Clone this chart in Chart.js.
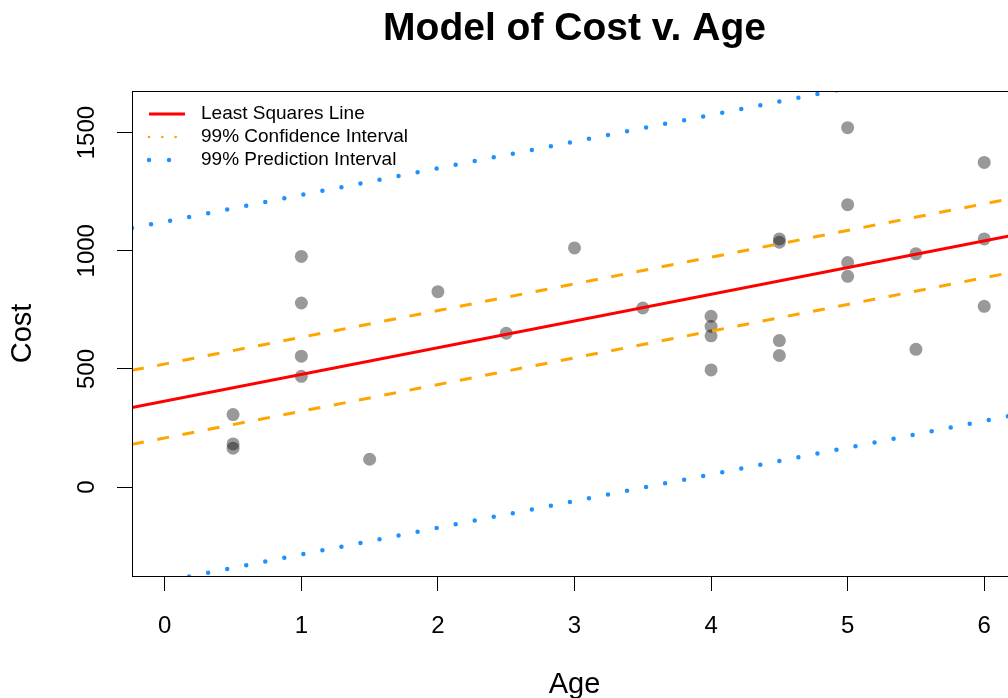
<!DOCTYPE html>
<html>
<head>
<meta charset="utf-8">
<title>Model of Cost v. Age</title>
<script src="https://cdn.jsdelivr.net/npm/chart.js@4.4.1/dist/chart.umd.min.js"></script>
<style>
  html, body { margin: 0; padding: 0; background: #fff; overflow: hidden; }
  #wrap { width: 1008px; height: 698px; overflow: hidden; }
</style>
</head>
<body>
<div id="wrap"><canvas id="chart" width="1030" height="698"></canvas></div>
<script>
// Observed machines: age (years) and cost
const ages  = [0.5, 0.5, 0.5, 1, 1, 1, 1, 1.5, 2, 2.5, 3, 3.5, 4, 4, 4, 4,
               4.5, 4.5, 4.5, 4.5, 5, 5, 5, 5, 5.5, 5.5, 6, 6, 6];
const costs = [307, 183, 165, 976, 779, 554, 469, 118, 827, 651, 1012, 758, 723, 680, 640, 496,
               1050, 1036, 620, 557, 1521, 1195, 950, 892, 987, 583, 1374, 1050, 765];

// Fitted line and 99% bands, taken at both ends of the age axis
const lineAges = [-0.24, 6.24];
const fitCost  = [337, 1069];
const ciLower  = [181, 913];
const ciUpper  = [494, 1226];
const piLower  = [-425, 307];
const piUpper  = [1096, 1828];

const ageTicks  = [0, 1, 2, 3, 4, 5, 6];
const costTicks = [0, 500, 1000, 1500];

const mainTitle = 'Model of Cost v. Age';
const legendLabels = ['Least Squares Line', '99% Confidence Interval', '99% Prediction Interval'];

const FONT = '"Liberation Sans", Arial, Helvetica, sans-serif';
const RED = '#FF0000', ORANGE = '#FFA500', BLUE = '#1E90FF';

const toPoints = ys => lineAges.map((x, i) => ({ x, y: ys[i] }));

function lineSet(label, ys, color, width, dash, cap) {
  return {
    type: 'line',
    label,
    data: toPoints(ys),
    borderColor: color,
    borderWidth: width,
    borderDash: dash,
    borderCapStyle: cap,
    pointRadius: 0,
    fill: false,
    tension: 0,
    order: 0
  };
}

// legend sample styles, same order as legendLabels
const legendStyles = [
  { color: RED, width: 3, dash: [], cap: 'butt' },
  { color: ORANGE, width: 2.7, dash: [0, 13.3], cap: 'round' },
  { color: BLUE, width: 4.5, dash: [0, 20], cap: 'round' }
];

// frame, main title and legend drawn R-style
const rDecor = {
  id: 'rDecor',
  afterDraw(chart) {
    const { ctx, chartArea: a } = chart;
    ctx.save();
    ctx.strokeStyle = '#000';
    ctx.lineWidth = 1;
    ctx.setLineDash([]);
    ctx.strokeRect(a.left + 0.5, a.top + 0.5, a.right - a.left, a.bottom - a.top);

    ctx.fillStyle = '#000';
    ctx.font = 'bold 39px ' + FONT;
    ctx.textAlign = 'center';
    ctx.textBaseline = 'middle';
    ctx.fillText(mainTitle, (a.left + a.right) / 2, 29);

    ctx.font = '19px ' + FONT;
    ctx.textAlign = 'left';
    legendLabels.forEach((txt, i) => {
      const y = a.top + 23 + i * 23;
      const s = legendStyles[i];
      ctx.beginPath();
      ctx.strokeStyle = s.color;
      ctx.lineWidth = s.width;
      ctx.lineCap = s.cap;
      ctx.setLineDash(s.dash);
      ctx.moveTo(a.left + 17, y);
      ctx.lineTo(a.left + 53, y);
      ctx.stroke();
      ctx.fillStyle = '#000';
      ctx.fillText(txt, a.left + 69, y);
    });
    ctx.restore();
  }
};

new Chart(document.getElementById('chart'), {
  type: 'scatter',
  data: {
    datasets: [
      {
        label: 'Cost',
        data: ages.map((x, i) => ({ x, y: costs[i] })),
        backgroundColor: 'rgba(0,0,0,0.4)',
        borderWidth: 0,
        pointRadius: 6.5,
        order: 10
      },
      lineSet(legendLabels[0], fitCost, RED, 3, [], 'butt'),
      lineSet('CI lower', ciLower, ORANGE, 3, [12, 13.7], 'butt'),
      lineSet('CI upper', ciUpper, ORANGE, 3, [12, 13.7], 'butt'),
      lineSet('PI lower', piLower, BLUE, 4.5, [0, 19.4], 'round'),
      lineSet('PI upper', piUpper, BLUE, 4.5, [0, 19.4], 'round')
    ]
  },
  options: {
    responsive: false,
    animation: false,
    layout: { padding: { top: 91, right: 13, left: 0, bottom: 0 } },
    plugins: {
      legend: { display: false },
      title: { display: false },
      tooltip: { enabled: false }
    },
    scales: {
      x: {
        type: 'linear',
        min: -0.24,
        max: 6.24,
        afterBuildTicks: s => { s.ticks = ageTicks.map(v => ({ value: v })); },
        afterFit: s => { s.height = 122; },
        grid: { display: true, drawOnChartArea: false, drawTicks: true, tickLength: 15, color: '#000' },
        border: { display: false },
        ticks: { color: '#000', font: { family: FONT, size: 24 }, padding: 21, callback: v => String(v) },
        title: { display: true, text: 'Age', color: '#000', font: { family: FONT, size: 29, lineHeight: 1 }, padding: { top: 0, bottom: -1 } }
      },
      y: {
        type: 'linear',
        min: -376,
        max: 1676,
        afterBuildTicks: s => { s.ticks = costTicks.map(v => ({ value: v })); },
        afterFit: s => { s.width = 132; },
        grid: { display: true, drawOnChartArea: false, drawTicks: true, tickLength: 15, color: '#000' },
        border: { display: false },
        ticks: { color: '#000', font: { family: FONT, size: 24 }, minRotation: 90, maxRotation: 90, crossAlign: 'center', padding: 3, callback: v => String(v) },
        title: { display: true, text: 'Cost', color: '#000', font: { family: FONT, size: 29, lineHeight: 1 }, padding: { top: 8, bottom: 0 } }
      }
    }
  },
  plugins: [rDecor]
});
</script>
</body>
</html>
